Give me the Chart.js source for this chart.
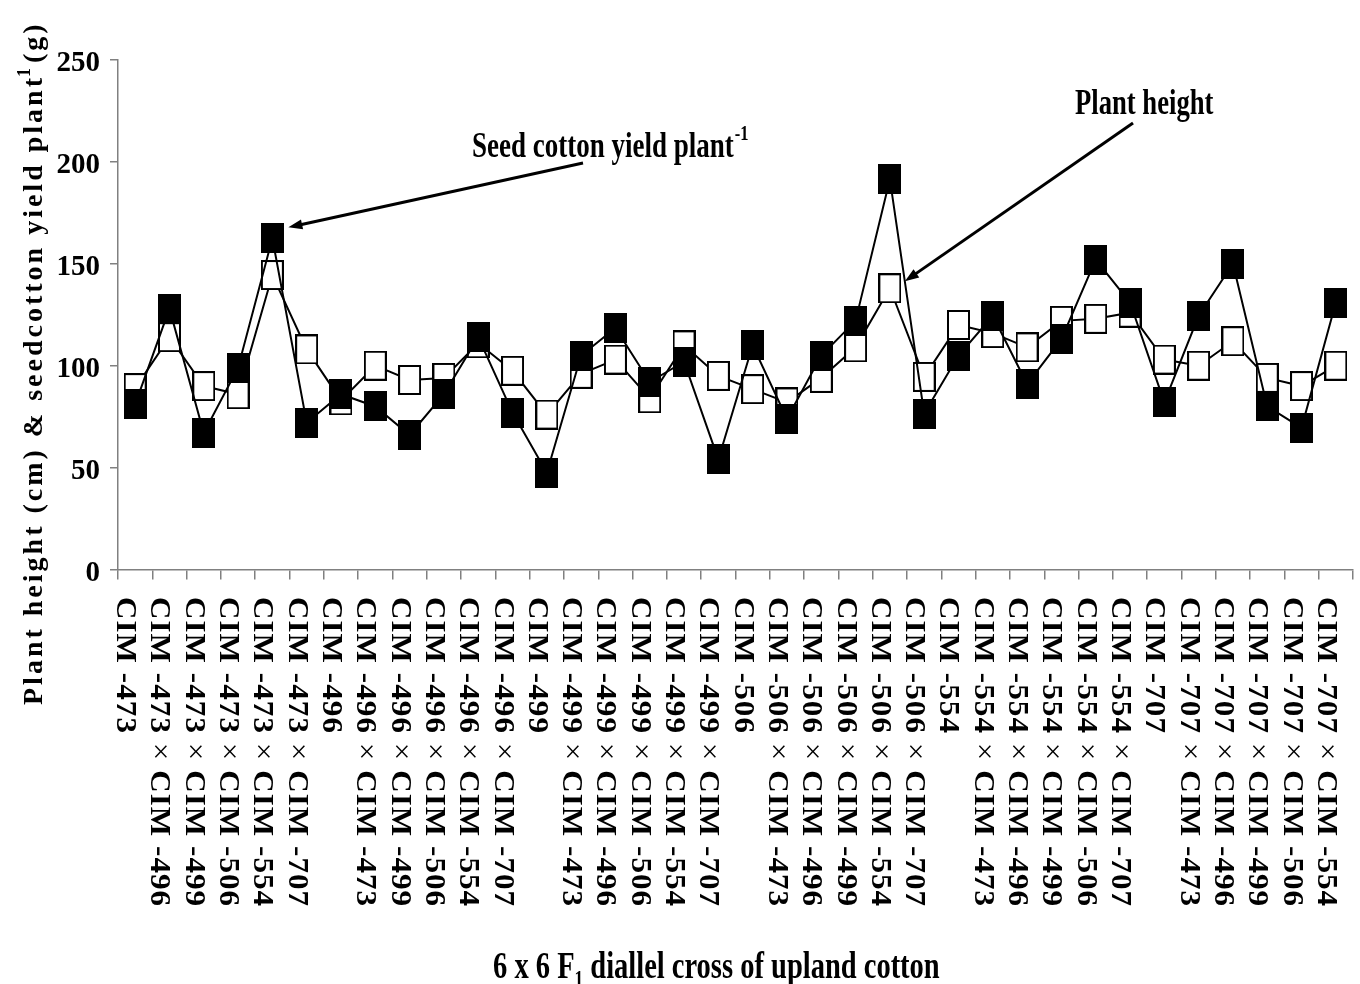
<!DOCTYPE html>
<html>
<head>
<meta charset="utf-8">
<title>6 x 6 F1 diallel cross of upland cotton</title>
<script src="https://cdn.jsdelivr.net/npm/chart.js@4"></script>
<style>
  html, body { margin: 0; padding: 0; background: #fff; }
  canvas { display: block; }
</style>
</head>
<body>
<canvas id="chart" width="1360" height="984"></canvas>
<script>
// crosses, in the order they are plotted
const categories = [
  "CIM -473", "CIM -473 × CIM -496", "CIM -473 × CIM -499", "CIM -473 × CIM -506", "CIM -473 × CIM -554", "CIM -473 × CIM -707",
  "CIM -496", "CIM -496 × CIM -473", "CIM -496 × CIM -499", "CIM -496 × CIM -506", "CIM -496 × CIM -554", "CIM -496 × CIM -707",
  "CIM -499", "CIM -499 × CIM -473", "CIM -499 × CIM -496", "CIM -499 × CIM -506", "CIM -499 × CIM -554", "CIM -499 × CIM -707",
  "CIM -506", "CIM -506 × CIM -473", "CIM -506 × CIM -496", "CIM -506 × CIM -499", "CIM -506 × CIM -554", "CIM -506 × CIM -707",
  "CIM -554", "CIM -554 × CIM -473", "CIM -554 × CIM -496", "CIM -554 × CIM -499", "CIM -554 × CIM -506", "CIM -554 × CIM -707",
  "CIM -707", "CIM -707 × CIM -473", "CIM -707 × CIM -496", "CIM -707 × CIM -499", "CIM -707 × CIM -506", "CIM -707 × CIM -554",
];

// plant height (cm) - open squares
const plantHeight = [
  89, 114, 90, 86, 144.5, 108,
  83, 100, 93, 94, 111, 97.5,
  76, 96, 103, 84, 110, 95,
  88.5, 82, 94, 109, 138, 94.5,
  120, 116, 109, 122, 123, 126,
  103, 100, 112, 94, 90, 100,
];

// seed cotton yield per plant (g) - filled squares
const seedYield = [
  81, 128, 67, 99, 162.5, 72,
  86, 80, 66, 86, 114, 77,
  47.5, 105, 118.5, 92, 102, 54,
  110, 74, 105, 122, 191.5, 76.5,
  105, 124.5, 91, 113, 152, 131,
  82, 124.5, 150, 80, 69.5, 131,
];

const yTicks = [0, 50, 100, 150, 200, 250];

const SERIF = "'Liberation Serif', 'Times New Roman', serif";
const AXIS_GREY = "#808080";

// rectangular marker, a bit taller than wide like in the original figure
const makeMarker = (fill) => {
  const c = document.createElement("canvas");
  c.width = 23;
  c.height = 30;
  const g = c.getContext("2d");
  g.fillStyle = fill;
  g.fillRect(0, 0, c.width, c.height);
  g.strokeStyle = "#000";
  g.lineWidth = 2;
  g.strokeRect(1, 1, c.width - 2, c.height - 2);
  return c;
};

const drawArrow = (ctx, fromX, fromY, toX, toY) => {
  const angle = Math.atan2(toY - fromY, toX - fromX);
  const headLen = 14;
  const headHalf = 5;
  ctx.save();
  ctx.strokeStyle = "#000";
  ctx.fillStyle = "#000";
  ctx.lineWidth = 3;
  ctx.beginPath();
  ctx.moveTo(fromX, fromY);
  ctx.lineTo(toX - Math.cos(angle) * headLen * 0.8, toY - Math.sin(angle) * headLen * 0.8);
  ctx.stroke();
  ctx.translate(toX, toY);
  ctx.rotate(angle);
  ctx.beginPath();
  ctx.moveTo(0, 0);
  ctx.lineTo(-headLen, -headHalf);
  ctx.lineTo(-headLen, headHalf);
  ctx.closePath();
  ctx.fill();
  ctx.restore();
};

// condensed bold text, like the stretched Times of the source figure
const condensedText = (ctx, text, x, y, size, squeeze) => {
  ctx.save();
  ctx.translate(x, y);
  ctx.scale(squeeze, 1);
  ctx.font = `bold ${size}px ${SERIF}`;
  ctx.textAlign = "left";
  ctx.textBaseline = "alphabetic";
  ctx.fillText(text, 0, 0);
  const w = ctx.measureText(text).width * squeeze;
  ctx.restore();
  return w;
};

const textPlugin = {
  id: "figureText",
  afterDraw(chart) {
    const { ctx } = chart;
    const xScale = chart.scales.x;
    const yScale = chart.scales.y;
    ctx.save();
    ctx.fillStyle = "#000";

    // vertical category labels, reading top to bottom
    categories.forEach((label, i) => {
      const px = xScale.getPixelForValue(i);
      const parts = label.split(" × ");
      ctx.save();
      ctx.translate(px - 18, 597);
      ctx.rotate(Math.PI / 2);
      ctx.scale(1.07, 1);
      ctx.textBaseline = "alphabetic";
      ctx.textAlign = "left";
      ctx.letterSpacing = "1px";
      ctx.font = `bold 29px ${SERIF}`;
      let cx = 0;
      ctx.fillText(parts[0], cx, 0);
      cx += ctx.measureText(parts[0] + " ").width;
      if (parts[1]) {
        ctx.font = `29px ${SERIF}`;
        ctx.fillText("×", cx, 0);
        cx += ctx.measureText("× ").width;
        ctx.font = `bold 29px ${SERIF}`;
        ctx.fillText(parts[1], cx, 0);
      }
      ctx.restore();
    });

    // y axis title, reading bottom to top
    ctx.save();
    ctx.translate(42, 705);
    ctx.rotate(-Math.PI / 2);
    ctx.textBaseline = "alphabetic";
    ctx.textAlign = "left";
    ctx.letterSpacing = "3px";
    ctx.font = `bold 28px ${SERIF}`;
    const yTitle = "Plant height (cm) & seedcotton yield plant";
    ctx.fillText(yTitle, 0, 0);
    let tx = ctx.measureText(yTitle).width;
    ctx.font = `bold 18px ${SERIF}`;
    ctx.fillText("1", tx - 2, -12);
    tx += ctx.measureText("1").width;
    ctx.font = `bold 28px ${SERIF}`;
    ctx.fillText("(g)", tx, 0);
    ctx.restore();

    // x axis title with subscript
    let xx = 493;
    xx += condensedText(ctx, "6 x 6 F", xx, 978, 38, 0.75);
    xx += condensedText(ctx, "1", xx, 986, 23, 0.75);
    condensedText(ctx, " diallel cross of upland cotton", xx, 978, 38, 0.75);

    // arrow labels
    const sw = condensedText(ctx, "Seed cotton yield plant", 472, 157, 36, 0.75);
    condensedText(ctx, "-1", 472 + sw + 1, 140, 22, 0.75);
    condensedText(ctx, "Plant height", 1075, 114, 36, 0.74);

    // arrows, tips placed next to the marked points
    const yieldPeak = 4;
    drawArrow(ctx, 583, 163,
      xScale.getPixelForValue(yieldPeak) + 16, yScale.getPixelForValue(seedYield[yieldPeak]) - 11);
    const heightPeak = 22;
    drawArrow(ctx, 1133, 123,
      xScale.getPixelForValue(heightPeak) + 15, yScale.getPixelForValue(plantHeight[heightPeak]) - 7);

    ctx.restore();
  },
};

const blackMarker = makeMarker("#000");
const whiteMarker = makeMarker("#fff");

new Chart(document.getElementById("chart"), {
  type: "line",
  data: {
    labels: categories,
    datasets: [
      {
        label: "Seed cotton yield plant-1",
        data: seedYield,
        order: 0,
        borderColor: "#000",
        borderWidth: 2,
        pointStyle: blackMarker,
        tension: 0,
      },
      {
        label: "Plant height",
        data: plantHeight,
        order: 1,
        borderColor: "#000",
        borderWidth: 2,
        pointStyle: whiteMarker,
        tension: 0,
      },
    ],
  },
  options: {
    responsive: false,
    animation: false,
    devicePixelRatio: 1,
    layout: { padding: { top: 60, right: 7, left: 0, bottom: 0 } },
    plugins: {
      legend: { display: false },
      tooltip: { enabled: false },
    },
    scales: {
      x: {
        type: "category",
        offset: true,
        ticks: { display: false },
        grid: {
          offset: true,
          drawOnChartArea: false,
          drawTicks: true,
          tickLength: 10,
          color: AXIS_GREY,
          lineWidth: 1.5,
        },
        border: { display: true, color: AXIS_GREY, width: 1.5 },
        afterFit: (scale) => {
          scale.height = 414.5;
        },
      },
      y: {
        min: 0,
        max: 250,
        afterBuildTicks: (scale) => {
          scale.ticks = yTicks.map((value) => ({ value }));
        },
        ticks: {
          color: "#000",
          padding: 10,
          labelOffset: 4,
          font: { family: SERIF, size: 29, weight: "bold" },
        },
        grid: {
          drawOnChartArea: false,
          drawTicks: true,
          tickLength: 8,
          color: AXIS_GREY,
          lineWidth: 1.5,
        },
        border: { display: true, color: AXIS_GREY, width: 1.5 },
        afterFit: (scale) => {
          scale.width = 118;
        },
      },
    },
  },
  plugins: [textPlugin],
});
</script>
</body>
</html>
